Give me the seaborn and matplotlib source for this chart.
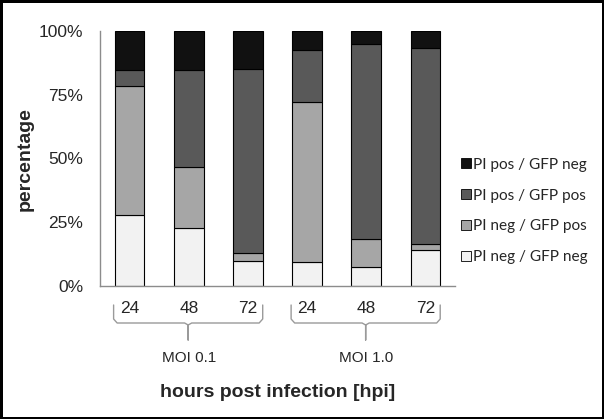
import numpy as np
import pandas as pd
import matplotlib
matplotlib.use("Agg")
import matplotlib.pyplot as plt
import matplotlib.transforms as mtransforms
from matplotlib.patches import Patch
import seaborn as sns

# ---- data (percent of cells per category) ----
groups = ["MOI 0.1", "MOI 0.1", "MOI 0.1", "MOI 1.0", "MOI 1.0", "MOI 1.0"]
hours = ["24", "48", "72", "24", "48", "72"]
pi_neg_gfp_neg = [28.0, 22.6, 10.0, 9.5, 7.3, 14.0]
pi_neg_gfp_pos = [50.5, 24.2, 3.0, 62.8, 11.2, 2.6]
pi_pos_gfp_pos = [6.2, 37.9, 72.0, 20.2, 76.5, 76.9]
pi_pos_gfp_neg = [15.3, 15.3, 15.0, 7.5, 5.0, 6.5]
series_names = ["PI neg / GFP neg", "PI neg / GFP pos", "PI pos / GFP pos", "PI pos / GFP neg"]
series_colors = ["#f2f2f2", "#a6a6a6", "#595959", "#111111"]
moi_labels = ["MOI 0.1", "MOI 1.0"]

series_vals = [pi_neg_gfp_neg, pi_neg_gfp_pos, pi_pos_gfp_pos, pi_pos_gfp_neg]
keys = [f"{g}|{h}" for g, h in zip(groups, hours)]

sns.set_style("white")
plt.rcParams["font.family"] = ["Liberation Sans", "DejaVu Sans"]

W, H = 604, 419
fig = plt.figure(figsize=(W / 100, H / 100), dpi=100, linewidth=2.5, edgecolor="black")
ax = fig.add_axes([100 / W, 1 - 286 / H, 355 / W, 255 / H])

bottom = np.zeros(len(keys))
for name, vals, col in zip(series_names, series_vals, series_colors):
    df = pd.DataFrame({"cond": keys, "value": vals})
    sns.barplot(data=df, x="cond", y="value", order=keys, color=col, saturation=1,
                width=0.5, bottom=bottom, edgecolor="black", linewidth=0.8,
                ax=ax, errorbar=None)
    bottom = bottom + np.array(vals)

ax.set_xlim(-0.5, 5.5)
ax.set_ylim(0, 100)
ax.set_yticks([0, 25, 50, 75, 100])
ax.set_yticklabels(["0%", "25%", "50%", "75%", "100%"], fontsize=12.5)
ax.set_xticks(range(len(keys)))
ax.set_xticklabels(hours, fontsize=12.5)
ax.tick_params(axis="y", length=0, pad=12)
ax.tick_params(axis="x", length=0, pad=11)
ax.set_xlabel("")
ax.set_ylabel("")
for s in ["top", "right"]:
    ax.spines[s].set_visible(False)
for s in ["left", "bottom"]:
    ax.spines[s].set_color("#8c8c8c")
    ax.spines[s].set_linewidth(1.0)

# braces under groups
trans = mtransforms.blended_transform_factory(ax.transData, fig.transFigure)
def fy(px):
    return 1 - px / H

def brace(x0, x1):
    xm = (x0 + x1) / 2
    c = 0.06
    xs = [x0, x0, x0 + c, xm - c, xm, xm, xm, xm + c, x1 - c, x1, x1]
    ys = [305, 319, 323, 323, 325, 340, 325, 323, 323, 319, 305]
    ax.plot(xs, [fy(y) for y in ys], transform=trans, color="#9a9a9a",
            lw=1.0, clip_on=False, solid_joinstyle="round")

brace(-0.27, 2.25)
brace(2.73, 5.25)
for i, lab in enumerate(moi_labels):
    ax.text(1 + 3 * i, fy(358), lab, transform=trans, ha="center", va="center", fontsize=11)

fig.text(277.5 / W, fy(392), "hours post infection [hpi]", ha="center", va="center",
         fontsize=14, fontweight="bold")
fig.text(25 / W, fy(159), "percentage", ha="center", va="center", rotation=90,
         fontsize=14, fontweight="bold")

handles = [Patch(facecolor=c, edgecolor="black", linewidth=0.6) for c in series_colors]
leg = fig.legend(handles[::-1], series_names[::-1], loc="center left",
                 bbox_to_anchor=(453 / W, fy(211)), frameon=False,
                 prop={"family": "Lato", "size": 11.1}, handlelength=0.65, handleheight=0.65,
                 handletextpad=0.12, labelspacing=1.1, borderpad=0)

fig.savefig("out.png", dpi=100)
